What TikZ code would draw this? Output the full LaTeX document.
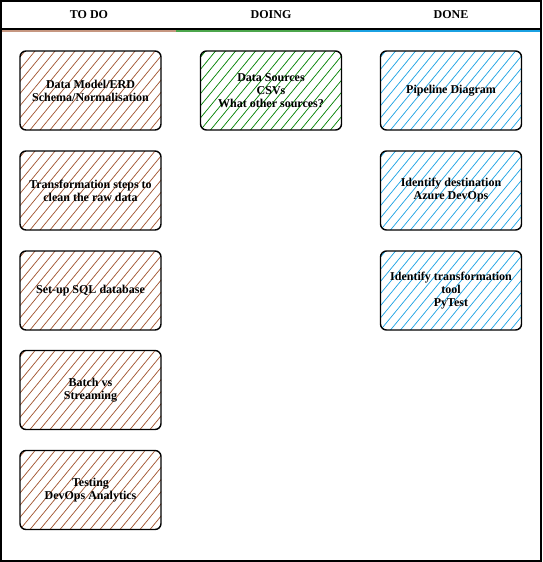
\documentclass[tikz,border=0pt]{standalone}
\usepackage{fontspec}
\setmainfont{Liberation Serif}
\usetikzlibrary{calc}
\definecolor{todoc}{HTML}{A0522D}
\definecolor{doingc}{HTML}{008000}
\definecolor{donec}{HTML}{1BA1E2}
\tikzset{
  card/.style={draw=black, line width=1.4pt, rounded corners=6pt,
    minimum width=141pt, minimum height=79pt, align=center,
    font=\fontsize{12}{13}\selectfont\bfseries,
    path picture={
      \foreach \i in {-8,...,15}
        \draw[#1, line width=0.7pt]
          ([xshift=\i*10pt]path picture bounding box.south west) -- ++(70pt,85pt);
    }},
  head/.style={font=\fontsize{12}{13}\selectfont\bfseries}
}
\begin{document}
\begin{tikzpicture}[x=1pt,y=-1pt]
\useasboundingbox (0,0) rectangle (542,562);
\draw[line width=1.2pt] (1,1) rectangle (541,561);
\draw[line width=1.6pt] (1,29) -- (541,29);
\draw[todoc!60, line width=1.5pt] (2,31) -- (176,31);
\draw[doingc!70, line width=1.5pt] (176,31) -- (350,31);
\draw[donec, line width=1.5pt] (350,31) -- (540,31);
\node[head] (h1) at (89,15) {TO DO};
\node[head] (h2) at (271,15) {DOING};
\node[head] (h3) at (451,15) {DONE};
\node[card=todoc] (t1) at (90.5,90.5) {Data Model/ERD\\Schema/Normalisation};
\node[card=todoc] (t2) at (90.5,190.5) {Transformation steps to\\clean the raw data};
\node[card=todoc] (t3) at (90.5,290.5) {Set-up SQL database};
\node[card=todoc] (t4) at (90.5,390) {Batch vs\\Streaming};
\node[card=todoc] (t5) at (90.5,490) {Testing\\DevOps Analytics};
\node[card=doingc] (g1) at (271,90.5) {Data Sources\\CSVs\\What other sources?};
\node[card=donec] (d1) at (451,90.5) {Pipeline Diagram};
\node[card=donec] (d2) at (451,190.5) {Identify destination\\Azure DevOps};
\node[card=donec] (d3) at (451,290.5) {Identify transformation\\tool\\PyTest};
\end{tikzpicture}
\end{document}
